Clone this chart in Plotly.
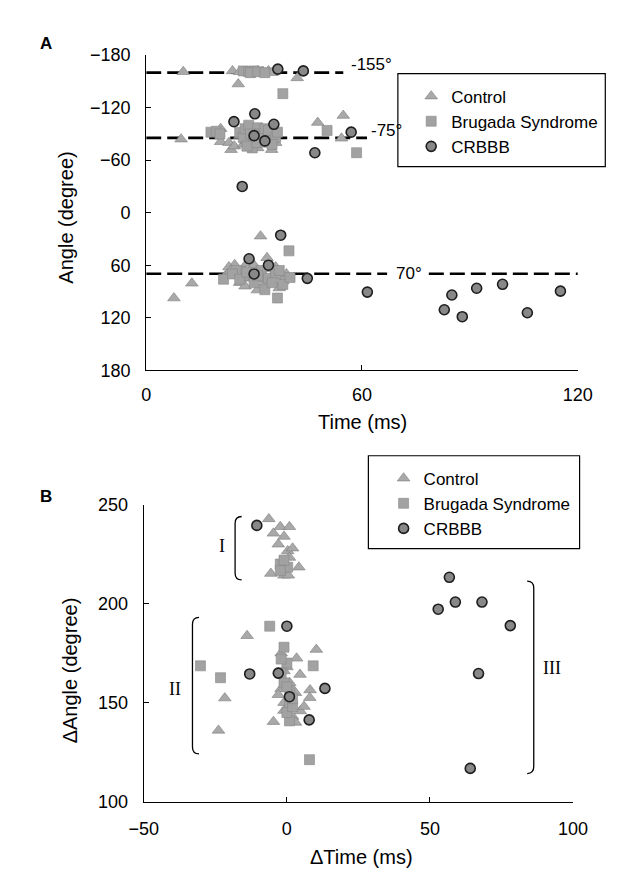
import plotly.graph_objects as go

# ---------------- Panel A data: Time (ms) vs Angle (degree) ----------------
a_ctrl_t = [10.3, 24, 25.6, 26, 31, 32.5, 34, 35, 42,
            9.7, 20.7, 20.7, 23, 23.6, 24.5, 26, 27, 28, 30, 31, 32, 34.9, 33, 35.5, 36, 47.7, 54.8, 54.3,
            7.7, 12.7, 31.8, 33.6, 24.6, 30.9, 23, 25, 27, 29, 31, 33, 35, 26, 28, 36, 38, 22, 30,
            23.5, 27.5, 32, 34, 37, 39]
a_ctrl_ang = [-161, -162, -147, -161, -162, -161, -162, -160, -154,
              -84, -96, -81, -80, -72, -76, -88, -78, -82, -92, -74, -78, -72, -86, -88, -80, -103, -111, -85,
              97.5, 80.6, 26.8, 51.5, 59.4, 88.4, 62, 70, 64, 75, 68, 80, 72, 80, 58, 62, 78, 72, 60,
              66, 84, 76, 64, 86, 70]

a_brug_t = [27, 28.5, 30, 29, 31, 33, 38,
            18, 19.5, 20.5, 26, 27, 27.5, 28.5, 29, 29.5, 30, 31, 31.5, 32.5, 33, 34, 34.5, 36, 36.5,
            30.5, 28, 35, 50.3, 58.5,
            21.5, 39.7, 36.5, 27, 30, 32, 34, 36, 38, 40, 25, 33, 24, 26, 28, 31, 35, 37]
a_brug_ang = [-162, -161, -162, -160, -161, -160, -136,
              -92, -93, -90, -92, -86, -96, -100, -90, -74, -84, -97, -90, -88, -96, -94, -82, -86, -92,
              -80, -76, -78, -94, -68.5,
              76, 43.6, 97.5, 72, 80, 66, 75, 70, 82, 74, 66, 88, 70, 76, 68, 72, 80, 66]

a_crbbb_t = [36.6, 43.7,
             24.4, 30.2, 35.5, 57, 46.9, 26.7, 30, 33,
             37.4, 28.6, 44.8, 61.5, 82.9, 85, 87.9, 91.9, 99.1, 106, 115.2, 34, 30]
a_crbbb_ang = [-164, -162,
               -104, -113, -101, -92, -68.5, -30, -88, -82,
               25.7, 52.6, 75, 90.7, 110.9, 94, 118.8, 86.3, 81.8, 114.3, 89.6, 60, 70]

# dashed reference lines (angle, start ms, end ms)
ref_angle = [-160, -85.5, 69.7, 69.7]
ref_start = [0, 0, 0, 78.6]
ref_end = [54.8, 61.4, 67, 121.9]
ref_labels = ["-155°", "-75°", "70°"]
ref_label_t = [62.6, 66.8, 73]
ref_label_ang = [-169, -94, 69.7]

# ---------------- Panel B data: ΔTime (ms) vs ΔAngle (degree) ----------------
b_ctrl_t = [-6.3, -2.3, 0.9, -4.7, -1, 0.3, 0.9, 4.2, -5.6, -1, 0.5, -3, 2,
            -13.9, -21.7, -23.9, 10.3, 3.4, 4.6, 8.1, 8, -4.7, 4.7, -2, -1, -2, -3, 1, 2, 6, 3, -1,
            0, -1, 3]
b_ctrl_ang = [242.8, 238.8, 238.8, 235.5, 233.9, 226.6, 223.3, 218.4, 215.2, 214.3, 214.3, 230, 228,
              183.8, 152.3, 136, 176.8, 172.4, 164.2, 156.4, 152.5, 140.4, 145.8, 175, 166, 157, 154, 160, 143, 148, 140, 150,
              168, 146, 155]

b_brug_t = [-2.3, 0.3, -2.3, -1,
            -6, -30.2, -23.2, 9.2, 0.9, 7.9, -1, 0, -1, 1, 0, 2, -2, 1, -2, 0, 2]
b_brug_ang = [220, 218.4, 216.7, 222,
              188.6, 168.6, 162.6, 168.6, 140.8, 121.2, 178, 170, 160, 150, 145, 148, 172, 156, 165, 158, 152]

b_crbbb_t = [-10.5,
             0, -13, 13.3, -3, 0.9, 7.8,
             56.8, 52.9, 58.9, 68.2, 78.1, 67, 64.1]
b_crbbb_ang = [239.5,
               188.6, 164.5, 157.2, 164.9, 153, 141.3,
               213.3, 197.2, 200.8, 200.8, 188.9, 164.7, 116.8]

# group brackets
grp_labels = ["I", "II", "III"]
grp_x = [-18.1, -33, 86.3]
grp_top = [244, 193.1, 211.4]
grp_bot = [212, 124.1, 114.2]
grp_dir = [1, 1, -1]
grp_label_t = [-22.7, -39.1, 92.6]
grp_label_ang = [229, 156.9, 167.6]

series = ["Control", "Brugada Syndrome", "CRBBB"]

FONT = "Liberation Sans, Arial, Helvetica, sans-serif"
SERIF = "Liberation Serif, Times New Roman, serif"

styles = {
    "Control": dict(symbol="triangle-up", size=11, color="#a9a9a9",
                    line=dict(color="#7c7c7c", width=0.6)),
    "Brugada Syndrome": dict(symbol="square", size=10, color="#a2a2a2",
                             line=dict(color="#888888", width=0.6)),
    "CRBBB": dict(symbol="circle", size=10, color="#888888",
                  line=dict(color="#1e1e1e", width=1.6)),
}

fig = go.Figure()

a_sets = [(a_ctrl_t, a_ctrl_ang), (a_brug_t, a_brug_ang), (a_crbbb_t, a_crbbb_ang)]
b_sets = [(b_ctrl_t, b_ctrl_ang), (b_brug_t, b_brug_ang), (b_crbbb_t, b_crbbb_ang)]

for ang, s, e in zip(ref_angle, ref_start, ref_end):
    fig.add_trace(go.Scatter(x=[s, e], y=[ang, ang], mode="lines", xaxis="x", yaxis="y",
                             line=dict(color="black", width=2.6, dash="15px,6px"),
                             showlegend=False, hoverinfo="skip"))

for name, (xs, ys) in zip(series, a_sets):
    fig.add_trace(go.Scatter(x=xs, y=ys, mode="markers", name=name, xaxis="x", yaxis="y",
                             marker=styles[name], legend="legend"))

for name, (xs, ys) in zip(series, b_sets):
    fig.add_trace(go.Scatter(x=xs, y=ys, mode="markers", name=name, xaxis="x2", yaxis="y2",
                             marker=styles[name], legend="legend2"))

W, H = 618, 875

def px(x):
    return x / W

def py(y):
    return 1 - y / H

axis_common = dict(showline=True, linecolor="black", linewidth=1.2, ticks="inside",
                   ticklen=5, tickcolor="black", tickwidth=1.2, showgrid=False,
                   zeroline=False, tickfont=dict(family=FONT, size=18, color="black"))

fig.update_layout(
    width=W, height=H, margin=dict(l=0, r=0, t=0, b=0),
    paper_bgcolor="white", plot_bgcolor="white",
    font=dict(family=FONT, color="black"),
    xaxis=dict(domain=[px(129.5), px(583)], range=[0, 120], tickvals=[0, 60, 120],
               anchor="y", ticklabelstandoff=8, **axis_common),
    yaxis=dict(domain=[py(360.5), py(38)], range=[180, -180],
               tickvals=[-180, -120, -60, 0, 60, 120, 180], anchor="x",
               ticklabelstandoff=11, **axis_common),
    xaxis2=dict(domain=[px(127), px(578)], range=[-50, 100], tickvals=[-50, 0, 50, 100],
                anchor="y2", ticklabelstandoff=11, **axis_common),
    yaxis2=dict(domain=[py(802), py(498)], range=[100, 250], tickvals=[100, 150, 200, 250],
                anchor="x2", ticklabelstandoff=11, **axis_common),
    legend=dict(x=px(408), y=py(62), xanchor="left", yanchor="top",
                bgcolor="rgba(0,0,0,0)", borderwidth=0,
                font=dict(family=FONT, size=17, color="black"), itemwidth=30,
                tracegroupgap=0),
    legend2=dict(x=px(379), y=py(453), xanchor="left", yanchor="top",
                 bgcolor="rgba(0,0,0,0)", borderwidth=0,
                 font=dict(family=FONT, size=17, color="black"), itemwidth=30,
                 tracegroupgap=0),
    showlegend=True,
)

shapes = [
    dict(type="rect", xref="paper", yref="paper", x0=px(394), x1=px(612), y0=py(152), y1=py(57),
         line=dict(color="black", width=1.2)),
    dict(type="rect", xref="paper", yref="paper", x0=px(363), x1=px(585), y0=py(543), y1=py(448),
         line=dict(color="black", width=1.2)),
]
for gx, gt, gb, gd in zip(grp_x, grp_top, grp_bot, grp_dir):
    h = 2.3 * gd
    c = 3.5
    path = (f"M {gx + h},{gt} Q {gx},{gt} {gx},{gt - c} L {gx},{gb + c} "
            f"Q {gx},{gb} {gx + h},{gb}")
    shapes.append(dict(type="path", xref="x2", yref="y2", path=path,
                       line=dict(color="black", width=1.3)))
fig.update_layout(shapes=shapes)

ann = []
for txt, t, a in zip(ref_labels, ref_label_t, ref_label_ang):
    ann.append(dict(text=txt, x=t, y=a, xref="x", yref="y", showarrow=False,
                    xanchor="center", yanchor="middle",
                    font=dict(family=FONT, size=17, color="black")))
for txt, t, a in zip(grp_labels, grp_label_t, grp_label_ang):
    ann.append(dict(text=txt, x=t, y=a, xref="x2", yref="y2", showarrow=False,
                    xanchor="center", yanchor="middle",
                    font=dict(family=SERIF, size=18, color="black")))

def pann(text, x, y, size, angle=0, bold=False):
    return dict(text=f"<b>{text}</b>" if bold else text, x=px(x), y=py(y),
                xref="paper", yref="paper", showarrow=False, textangle=angle,
                xanchor="center", yanchor="middle",
                font=dict(family=FONT, size=size, color="black"))

ann += [
    pann("A", 24, 26, 17, bold=True),
    pann("B", 24, 490, 17, bold=True),
    pann("Angle (degree)", 45.5, 204, 20, angle=-90),
    pann("Time (ms)", 357, 413, 20),
    pann("ΔAngle (degree)", 49, 668, 20, angle=-90),
    pann("ΔTime (ms)", 356, 859, 20),
]
fig.update_layout(annotations=ann)

fig.write_html("out.html")
